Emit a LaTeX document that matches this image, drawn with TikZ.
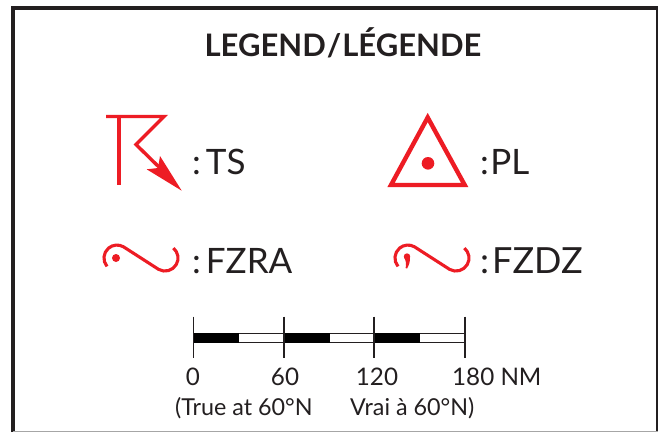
\documentclass[tikz,border=0pt]{standalone}
\usepackage{fontspec}
\setmainfont{Lato}
\definecolor{ink}{HTML}{231F20}
\definecolor{wxred}{HTML}{ED1C24}
\tikzset{
  wx/.style={draw=wxred,line width=3.4pt,line join=miter},
  wxthin/.style={draw=wxred,line width=3.1pt,line cap=butt},
  label/.style={inner sep=0pt,text=ink,font=\fontsize{35}{35}\selectfont,anchor=base west},
  scaletxt/.style={inner sep=0pt,text=ink,font=\fontsize{24.2}{25}\selectfont,anchor=base},
  notetxt/.style={inner sep=0pt,text=ink,font=\fontsize{23.3}{24}\selectfont,anchor=base west},
  tick/.style={draw=ink,line width=1.1pt}
}
\newcommand{\squigpath}{(107,266.4) arc[start angle=140,end angle=300,radius=13] -- (158.5,269.3) arc[start angle=120,end angle=-50,radius=13]}
\begin{document}
\begin{tikzpicture}[x=1pt,y=1pt,yscale=-1]
\useasboundingbox (0,0) rectangle (658,432);
\fill[white] (0,0) rectangle (658,432);
% frame
\draw[ink,line width=4pt] (13,432) -- (13,8) -- (658,8);
\draw[ink,line width=3pt] (657,8) -- (657,431);
\draw[gray!70,line width=1.2pt] (13,431.4) -- (658,431.4);
% title
\node[inner sep=0pt,text=ink,anchor=base,font=\bfseries\fontsize{31}{31}\selectfont] (title) at (343,56) {LEGEND\kern1pt/\kern1pt LÉGENDE};
% TS
\draw[wx] (106,116.5) -- (164,116.5) -- (136,144.5) -- (162,170);
\draw[wx] (119,116.5) -- (119,185);
\fill[wxred] (181.7,190.7) -- (146.7,169.3) -- (158,168) -- (160,156) -- cycle;
\node[label] (ts) at (192,174) {:\kern5pt TS};
% PL
\draw[wx,line width=4.4pt] (427.7,117.5) -- (391,185) -- (464.7,185) -- cycle;
\fill[wxred] (428,163.3) circle[radius=6.3];
\node[label] (pl) at (480,174) {:\kern1.5pt PL};
% FZRA
\draw[wxthin] \squigpath;
\fill[wxred] (116,258) circle[radius=4];
\node[label] (fzra) at (192,273) {:\kern5pt FZRA};
% FZDZ
\begin{scope}[xshift=291pt]
\draw[wxthin] \squigpath;
\end{scope}
\fill[wxred] (407,256.5) circle[radius=3.2];
\fill[wxred] (404,257) -- (410,257) .. controls (410.2,262) and (409,265) .. (407,268.5) -- (405.6,268) .. controls (406.5,264) and (406,261) .. (404,257) -- cycle;
\node[label,font=\fontsize{36}{36}\selectfont] (fzdz) at (480,273) {:\kern3pt FZDZ};
% scale bar
\draw[ink,line width=.9pt,fill=white] (193.3,333) rectangle (465,342.5);
\fill[black] (193.3,332.7) rectangle (239,342.7);
\fill[black] (284,332.7) rectangle (330,342.7);
\fill[black] (374,332.7) rectangle (420,342.7);
\draw[tick] (193.3,316.7) -- (193.3,357.7);
\draw[tick] (284,316.7) -- (284,357.7);
\draw[tick] (374,316.7) -- (374,357.7);
\draw[tick] (465,316.7) -- (465,357.7);
\node[scaletxt] (s0) at (193,385) {0};
\node[scaletxt] (s60) at (285,385) {60};
\node[scaletxt] (s120) at (377,385) {120};
\node[inner sep=0pt,text=ink,font=\fontsize{24.2}{25}\selectfont,anchor=base west] (s180) at (452,385) {180 NM};
\node[notetxt] (en) at (175,415) {(True at 60°N};
\node[notetxt] (fr) at (350,415) {Vrai à 60°N)};
\end{tikzpicture}
\end{document}
